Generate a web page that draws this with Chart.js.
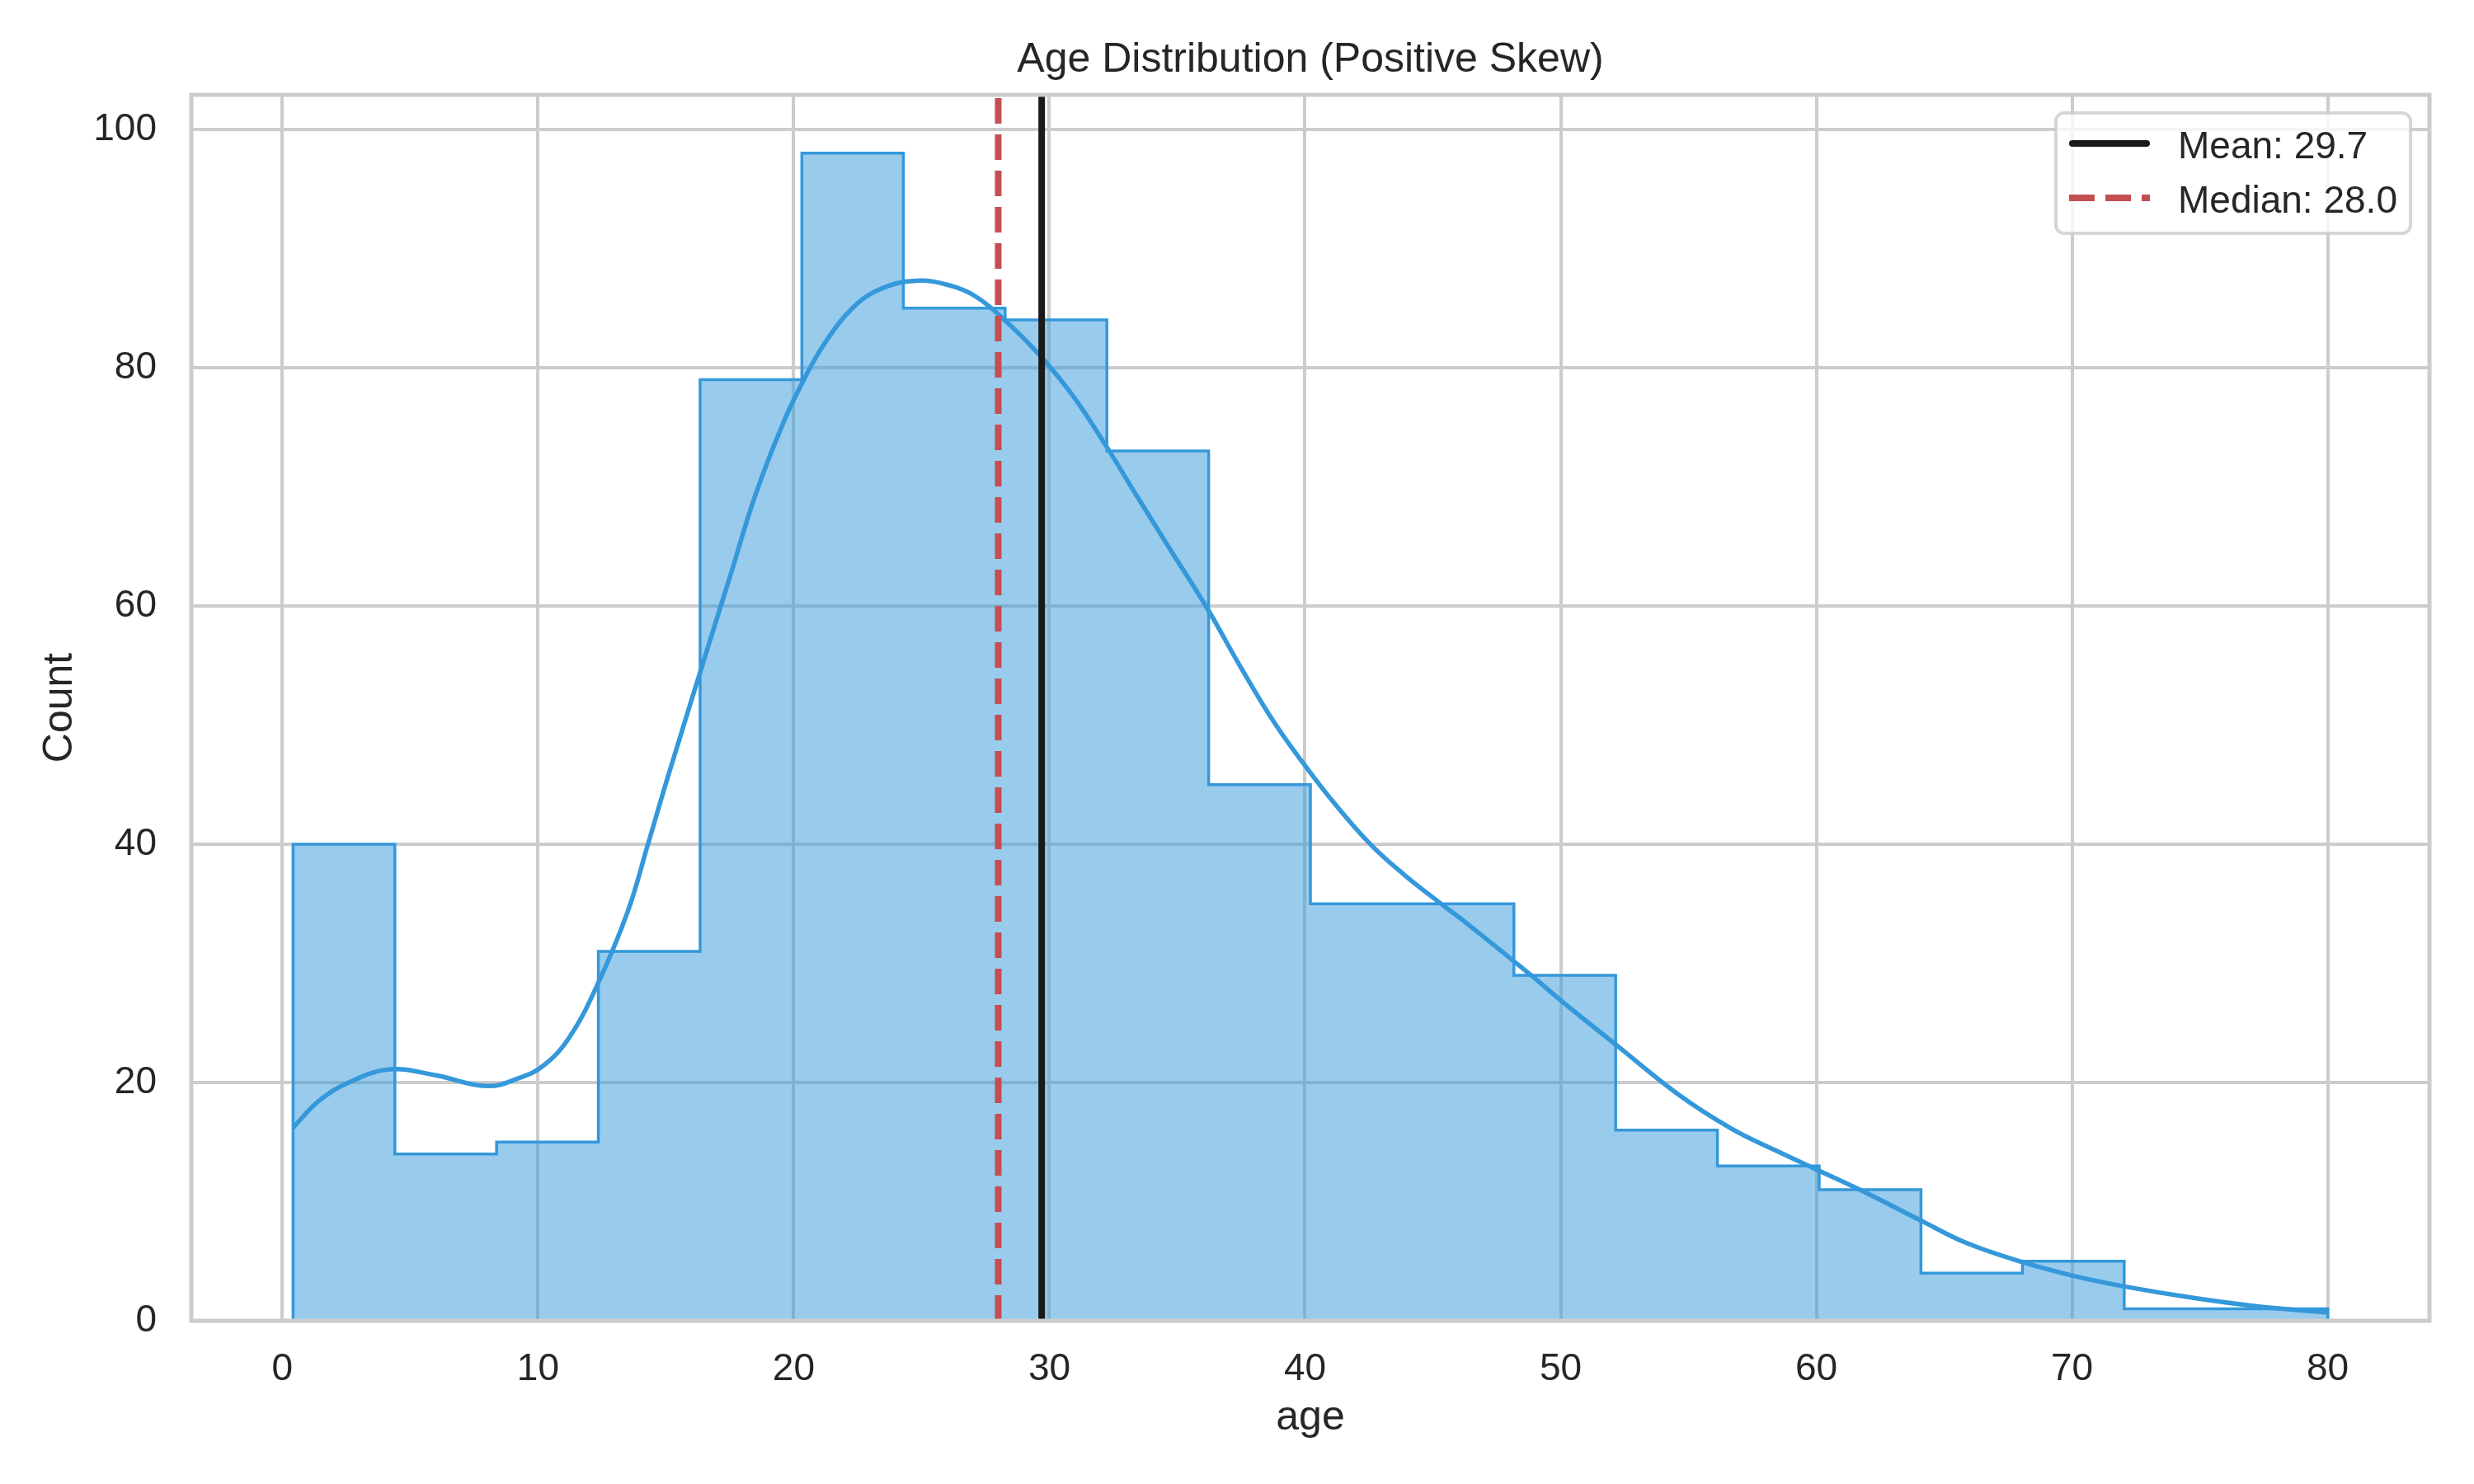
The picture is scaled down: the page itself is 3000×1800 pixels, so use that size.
<!DOCTYPE html>
<html>
<head>
<meta charset="utf-8">
<title>Age Distribution (Positive Skew)</title>
<script src="https://cdn.jsdelivr.net/npm/chart.js@4.4.1/dist/chart.umd.min.js"></script>
<style>
  html, body { margin: 0; padding: 0; background: #ffffff; }
  #wrap { width: 3000px; height: 1800px; }
</style>
</head>
<body>
<div id="wrap"><canvas id="ageChart" width="3000" height="1800"></canvas></div>
<script>
// histogram bins (20 bins between the youngest and oldest age)
const binEdges = [0.42, 4.40, 8.38, 12.36, 16.34, 20.32, 24.29, 28.27, 32.25, 36.23, 40.21,
                  44.19, 48.17, 52.15, 56.13, 60.11, 64.09, 68.06, 72.04, 76.02, 80.00];
const binCounts = [40, 14, 15, 31, 79, 98, 85, 84, 73, 45, 35, 35, 29, 16, 13, 11, 4, 5, 1, 1];

// kde curve (already scaled to counts)
const kdeAges = [0.42, 1.4, 2.6, 4.2, 6.0, 8.0, 9.3, 10.2, 11.2, 12.3, 13.5, 14.3, 15.1, 16.8,
                 17.5, 18.5, 19.6, 20.4, 21.2, 22.3, 23.4, 24.8, 26.1, 27.1, 28.2, 29.6, 30.9,
                 32.2, 33.4, 34.8, 36.2, 37.5, 38.8, 40.0, 41.2, 42.6, 43.9, 45.2, 46.3, 48.9,
                 50.0, 52.2, 54.6, 56.7, 58.4, 60.0, 61.7, 64.1, 65.9, 68.1, 70.0, 72.0, 74.8,
                 77.3, 80.0];
const kdeCounts = [16.2, 18.4, 20.0, 21.1, 20.6, 19.7, 20.4, 21.4, 23.7, 28.1, 34.3, 40.0, 45.8, 57.6,
                   62.4, 69.3, 75.4, 79.0, 82.0, 85.0, 86.6, 87.3, 86.9, 86.0, 84.1, 81.1, 77.7,
                   73.5, 69.3, 64.5, 59.7, 54.8, 50.2, 46.6, 43.3, 39.9, 37.4, 35.2, 33.4, 28.9,
                   26.9, 23.1, 19.0, 16.1, 14.3, 12.7, 11.0, 8.4, 6.5, 4.9, 3.8, 2.9, 1.9,
                   1.2, 0.7];

const meanAge = 29.7;
const medianAge = 28.0;

const xTickValues = [0, 10, 20, 30, 40, 50, 60, 70, 80];
const yTickValues = [0, 20, 40, 60, 80, 100];
const xMin = -3.56, xMax = 83.98;
const yMin = 0, yMax = 102.9;

const FONT = '"Liberation Sans", Arial, Helvetica, sans-serif';
const TEXT = '#262626';
const GRID = '#cccccc';

Chart.defaults.font.family = FONT;
Chart.defaults.color = TEXT;

// step outline: start and end on the baseline
const histPoints = [{ x: binEdges[0], y: 0 }];
binCounts.forEach((c, i) => histPoints.push({ x: binEdges[i], y: c }));
histPoints.push({ x: binEdges[binEdges.length - 1], y: binCounts[binCounts.length - 1] });
histPoints.push({ x: binEdges[binEdges.length - 1], y: 0 });

const kdePoints = kdeAges.map((a, i) => ({ x: a, y: kdeCounts[i] }));

// axes frame (all four spines)
const frame = {
    id: 'frame',
    afterDatasetsDraw(chart) {
        const { ctx, chartArea: a } = chart;
        ctx.save();
        ctx.strokeStyle = GRID;
        ctx.lineWidth = 5;
        ctx.strokeRect(a.left, a.top, a.right - a.left, a.bottom - a.top);
        ctx.restore();
    }
};

// matplotlib-like legend box in the upper right corner
const boxLegend = {
    id: 'boxLegend',
    afterDraw(chart) {
        const { ctx, chartArea: a } = chart;
        const items = chart.data.datasets.filter(d => d.inLegend);
        const w = 430, h = 146, rowH = 66;
        const x0 = a.right - 23 - w, y0 = a.top + 22;
        ctx.save();
        ctx.beginPath();
        ctx.roundRect(x0, y0, w, h, 10);
        ctx.fillStyle = 'rgba(255,255,255,0.8)';
        ctx.fill();
        ctx.lineWidth = 4;
        ctx.strokeStyle = 'rgba(204,204,204,0.8)';
        ctx.stroke();
        items.forEach((d, i) => {
            const y = y0 + 37 + i * rowH;
            ctx.beginPath();
            if (d.borderDash) {
                ctx.setLineDash(d.borderDash);
                ctx.lineCap = 'butt';
                ctx.moveTo(x0 + 16, y);
                ctx.lineTo(x0 + 114, y);
            } else {
                ctx.setLineDash([]);
                ctx.lineCap = 'round';
                ctx.moveTo(x0 + 20, y);
                ctx.lineTo(x0 + 110, y);
            }
            ctx.strokeStyle = d.borderColor;
            ctx.lineWidth = d.borderWidth;
            ctx.stroke();
            ctx.setLineDash([]);
            ctx.fillStyle = TEXT;
            ctx.font = '46px ' + FONT;
            ctx.textAlign = 'left';
            ctx.textBaseline = 'alphabetic';
            ctx.fillText(d.label, x0 + 148, y + 18);
        });
        ctx.restore();
    }
};

new Chart(document.getElementById('ageChart'), {
    type: 'line',
    data: {
        datasets: [
            {
                label: 'Mean: ' + meanAge.toFixed(1),
                inLegend: true,
                data: [{ x: meanAge, y: yMin }, { x: meanAge, y: yMax }],
                borderColor: '#1a1a1a',
                borderWidth: 8,
                pointRadius: 0,
                fill: false,
                order: 0
            },
            {
                label: 'Median: ' + medianAge.toFixed(1),
                inLegend: true,
                data: [{ x: medianAge, y: yMin }, { x: medianAge, y: yMax }],
                borderColor: '#c44e52',
                borderWidth: 8,
                borderDash: [31, 13],
                pointRadius: 0,
                fill: false,
                order: 1
            },
            {
                label: 'kde',
                data: kdePoints,
                borderColor: '#3498db',
                borderWidth: 5.5,
                tension: 0.4,
                pointRadius: 0,
                fill: false,
                order: 2
            },
            {
                label: 'age',
                data: histPoints,
                stepped: 'before',
                borderColor: '#3498db',
                borderWidth: 3.5,
                borderJoinStyle: 'miter',
                backgroundColor: 'rgba(52,152,219,0.5)',
                fill: 'origin',
                pointRadius: 0,
                order: 3
            }
        ]
    },
    options: {
        responsive: false,
        animation: false,
        devicePixelRatio: 1,
        events: [],
        layout: { padding: { left: 0, right: 54, top: 0, bottom: 0 } },
        scales: {
            x: {
                type: 'linear',
                min: xMin,
                max: xMax,
                afterBuildTicks: s => { s.ticks = xTickValues.map(v => ({ value: v })); },
                afterFit: s => { s.height = 198; },
                grid: { color: GRID, lineWidth: 4, drawTicks: false },
                border: { display: false },
                ticks: { padding: 32, font: { size: 46 }, color: TEXT, maxRotation: 0, callback: v => String(v) },
                title: { display: true, text: 'age', font: { size: 50 }, color: TEXT, padding: { top: 0, bottom: 50 } }
            },
            y: {
                type: 'linear',
                min: yMin,
                max: yMax,
                afterBuildTicks: s => { s.ticks = yTickValues.map(v => ({ value: v })); },
                afterFit: s => { s.width = 232; },
                grid: { color: GRID, lineWidth: 4, drawTicks: false },
                border: { display: false },
                ticks: { padding: 42, font: { size: 46 }, color: TEXT, callback: v => String(v) },
                title: { display: true, text: 'Count', font: { size: 50 }, color: TEXT, padding: { top: 43, bottom: 0 } }
            }
        },
        plugins: {
            legend: { display: false },
            tooltip: { enabled: false },
            title: {
                display: true,
                text: 'Age Distribution (Positive Skew)',
                fullSize: false,
                font: { size: 50, weight: 'normal' },
                color: TEXT,
                padding: { top: 43, bottom: 12 }
            }
        }
    },
    plugins: [frame, boxLegend]
});
</script>
</body>
</html>
